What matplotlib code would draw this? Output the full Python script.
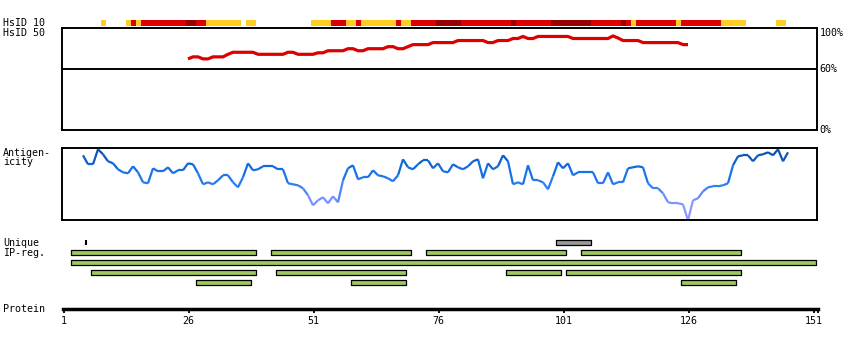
import numpy as np
import matplotlib
matplotlib.use("Agg")
import matplotlib.pyplot as plt
from matplotlib.collections import LineCollection
from matplotlib.colors import LinearSegmentedColormap

# HsID 10 strip: (first residue, last residue, level)
hsid10_start = [9, 14, 15, 16, 17, 26, 28, 30, 38, 51, 55, 58, 60, 61, 68, 69, 71, 76,
                81, 91, 92, 99, 107, 113, 114, 115, 116, 124, 125, 133, 144]
hsid10_end = [9, 14, 15, 16, 25, 27, 29, 36, 39, 54, 57, 59, 60, 67, 68, 70, 75, 80,
              90, 91, 98, 106, 112, 113, 114, 115, 123, 124, 132, 137, 145]
hsid10_level = ["y", "y", "r", "y", "r", "d", "r", "y", "y", "y", "r", "y", "r", "y", "r", "y", "r", "d",
                "r", "d", "r", "d", "r", "d", "r", "y", "r", "y", "r", "y", "y"]
level_colors = {"y": "#FFCC22", "r": "#DD0000", "d": "#990000"}

# HsID 50 identity (%) for residues 26..126
hsid50_first = 26
hsid50_pct = [70, 72, 72, 70, 70, 72, 72, 72, 74.5, 76.5, 76.5, 76.5, 76.5, 76.5,
              74.5, 74.5, 74.5, 74.5, 74.5, 74.5, 76.5, 76.5, 74.5, 74.5, 74.5, 74.5,
              76, 76, 78, 78, 78, 78, 80, 80, 78, 78, 80, 80, 80, 80, 82, 82, 80, 80, 82,
              84, 84, 84, 84, 86, 86, 86, 86, 86, 88, 88, 88, 88, 88, 88, 86, 86, 88, 88, 88,
              90, 90, 92, 90, 90, 92, 92, 92, 92, 92, 92, 92, 90, 90, 90, 90, 90, 90, 90, 90,
              92.5, 90.5, 88, 88, 88, 88, 86, 86, 86, 86, 86, 86, 86, 86, 84, 84]

# antigenicity score for residues 5..146
antigen_first = 5
antigen = [65, 56, 56, 71, 66, 59, 57, 51, 48, 47, 54, 48, 38, 37, 52, 49, 49, 53, 47, 50,
           50, 57, 56, 47, 36, 38, 36, 40, 45, 45, 38, 33, 43, 57, 50, 51, 54, 54, 54, 51,
           51, 37, 36, 35, 32, 25, 15, 20, 23, 17, 24, 18, 40, 52, 55, 41, 43, 43, 50, 45,
           44, 42, 39, 45, 61, 53, 51, 56, 60, 60, 52, 57, 49, 48, 56, 53, 51, 54, 59, 61,
           42, 57, 51, 54, 65, 59, 36, 38, 36, 55, 40, 40, 38, 31, 44, 58, 52, 57, 45, 48,
           48, 48, 48, 37, 37, 48, 36, 38, 38, 52, 53, 54, 53, 37, 32, 32, 27, 18, 17, 17,
           16, 0, 20, 22, 29, 33, 34, 34, 35, 37, 55, 64, 65, 65, 59, 65, 66, 68, 65, 71,
           59, 68]

# IP regions: rows of (first residue, last residue)
ip_rows = [
    [(3, 39), (43, 70), (74, 101), (105, 136)],
    [(3, 151)],
    [(7, 39), (44, 69), (90, 100), (102, 136)],
    [(28, 38), (59, 69), (125, 135)],
]
unique_regions = [(100, 106)]
unique_marks = [5.6]

protein_ticks = [1, 26, 51, 76, 101, 126, 151]
protein_len = 151

W, H = 850, 350
X0, X1 = 62.3, 817.3
XLIM = (0.86, 151.86)
MONO = "DejaVu Sans Mono"
FS = 7.2

fig = plt.figure(figsize=(W / 100, H / 100), dpi=100)


def px_axes(x0, y0, x1, y1):
    return fig.add_axes([x0 / W, 1 - y1 / H, (x1 - x0) / W, (y1 - y0) / H])


def label(x, y, s, **kw):
    fig.text(x / W, 1 - y / H, s, family=MONO, size=FS, va="center", **kw)


# HsID 10 strip
ax = px_axes(X0, 19.5, X1, 25.5)
for s, e, lv in zip(hsid10_start, hsid10_end, hsid10_level):
    ax.broken_barh([(s - 0.5, e - s + 1)], (0, 1), facecolors=level_colors[lv], lw=0)
ax.set_xlim(*XLIM)
ax.set_ylim(0, 1)
ax.axis("off")

# HsID 50 panel
ax = px_axes(X0, 28.3, X1, 130.3)
res50 = np.arange(hsid50_first, hsid50_first + len(hsid50_pct))
ax.plot(res50, hsid50_pct, color="#DD0000", lw=2.3, solid_capstyle="butt")
ax.axhline(60, color="black", lw=1.4)
ax.set_xlim(*XLIM)
ax.set_ylim(0, 100)
ax.set_xticks([])
ax.set_yticks([])
for sp in ax.spines.values():
    sp.set_linewidth(1.4)
tr = ax.get_yaxis_transform()
ax.text(1.003, 100, "100%", transform=tr, va="top", ha="left", family=MONO, size=FS)
ax.text(1.003, 60, "60%", transform=tr, va="center", ha="left", family=MONO, size=FS)
ax.text(1.003, 0, "0%", transform=tr, va="center", ha="left", family=MONO, size=FS)

# Antigenicity panel
ax = px_axes(X0, 148.3, X1, 220.3)
resag = np.arange(antigen_first, antigen_first + len(antigen))
vals = np.array(antigen, dtype=float)
pts = np.column_stack([resag, vals]).reshape(-1, 1, 2)
segs = np.concatenate([pts[:-1], pts[1:]], axis=1)
cmap = LinearSegmentedColormap.from_list(
    "ag", [(0.0, "#9C9CFF"), (0.3, "#7490FF"), (0.5, "#2A7CF2"),
           (0.7, "#1270E6"), (1.0, "#0A48A8")])
lc = LineCollection(segs, cmap=cmap, norm=plt.Normalize(0, 72), lw=1.6)
lc.set_array((vals[:-1] + vals[1:]) / 2)
ax.add_collection(lc)
ax.set_xlim(*XLIM)
ax.set_ylim(0, 72)
ax.set_xticks([])
ax.set_yticks([])
for sp in ax.spines.values():
    sp.set_linewidth(1.4)

# IP regions
ax = px_axes(X0, 237.3, X1, 287.3)
for s, e in unique_regions:
    ax.broken_barh([(s - 0.5, e - s + 1)], (-0.22, 0.44), facecolors="#999999",
                   edgecolors="black", lw=0.9)
ax.vlines(unique_marks, -0.25, 0.25, color="black", lw=1.5)
for i, row in enumerate(ip_rows, start=1):
    for s, e in row:
        ax.broken_barh([(s - 0.5, e - s + 1)], (i - 0.22, 0.44), facecolors="#A0C860",
                       edgecolors="black", lw=0.9)
ax.set_xlim(*XLIM)
ax.set_ylim(4.5, -0.5)
ax.axis("off")

# Protein axis
ax = px_axes(X0 + 0.7, 300, X1 + 0.7, 309.3)
ax.set_xlim(*XLIM)
ax.set_ylim(0, 1)
for k in ["top", "left", "right"]:
    ax.spines[k].set_visible(False)
ax.spines["bottom"].set_linewidth(2.5)
ax.set_yticks([])
ax.set_xticks(protein_ticks)
ax.set_xticklabels([str(t) for t in protein_ticks], family=MONO, size=FS)
ax.set_xticks([protein_len + 0.8], minor=True)
ax.tick_params(axis="x", which="both", direction="out", length=3, width=1.3, pad=2)
ax.patch.set_visible(False)

# left labels
label(3, 22.5, "HsID 10")
label(3, 32.7, "HsID 50")
label(3, 152.7, "Antigen-")
label(3, 162.3, "icity")
label(3, 242.7, "Unique")
label(3, 252.6, "IP-reg.")
label(3, 309.5, "Protein")

fig.savefig("out.png", dpi=100)
